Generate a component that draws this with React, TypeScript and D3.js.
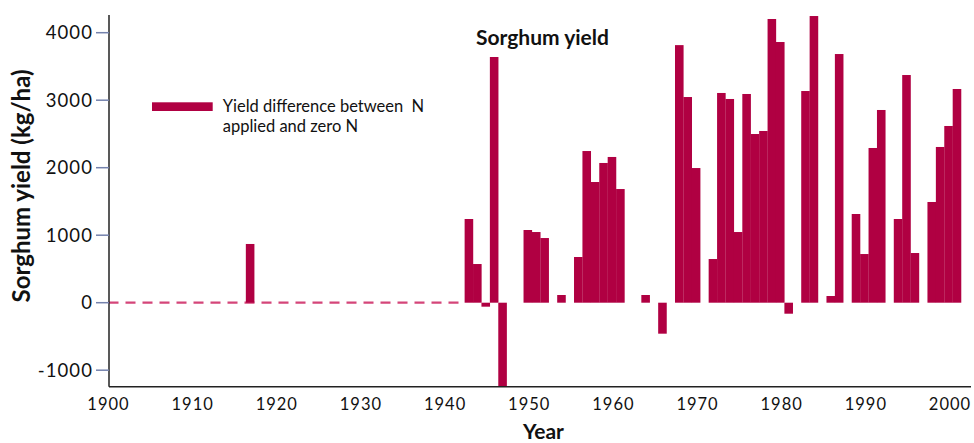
import React from "react";
import * as d3 from "d3";

const years = [1917, 1943, 1944, 1945, 1946, 1947, 1950, 1951, 1952, 1954, 1956, 1957, 1958, 1959, 1960, 1961, 1964, 1966, 1968, 1969, 1970, 1972, 1973, 1974, 1975, 1976, 1977, 1978, 1979, 1980, 1981, 1983, 1984, 1986, 1987, 1989, 1990, 1991, 1992, 1994, 1995, 1996, 1998, 1999, 2000, 2001];
const yieldDiff = [870, 1240, 573, -59, 3640, -1250, 1077, 1047, 958, 114, 677, 2247, 1788, 2070, 2159, 1684, 114, -459, 3816, 3047, 1995, 647, 3107, 3018, 1047, 3092, 2499, 2544, 4203, 3862, -163, 3136, 4247, 99, 3684, 1314, 721, 2292, 2855, 1240, 3373, 736, 1492, 2307, 2618, 3166];
const yTicks = [-1000, 0, 1000, 2000, 3000, 4000];
const xTicks = [1900, 1910, 1920, 1930, 1940, 1950, 1960, 1970, 1980, 1990, 2000];
const dashedFrom = 1900;
const dashedTo = 1942.3;
const title = "Sorghum yield";
const legendLines = ["Yield difference between  N", "applied and zero N"];

const W = 974;
const H = 443;
const FONT = "Lato, 'Open Sans', sans-serif";
const BAR = "#b00042";

export default function App() {
  const x = d3.scaleLinear().domain([1900, 2000]).range([108.5, 950]);
  const y = d3.scaleLinear().domain([0, 4000]).range([302.7, 32.7]);
  const top = 15;
  const bottom = 386.7;
  const left = 109;
  const data = years.map((yr, i) => ({ yr, v: yieldDiff[i] }));
  return (
    <svg width={W} height={H} style={{ position: "absolute", left: 0, top: 0, background: "#fff" }} fontFamily={FONT}>
      <defs>
        <clipPath id="plot">
          <rect x={left} y={top} width={W - left} height={bottom - top} />
        </clipPath>
      </defs>
      <line x1={x(dashedFrom)} x2={x(dashedTo)} y1={y(0)} y2={y(0)} stroke="#cc2462" strokeOpacity={0.85} strokeWidth={2.2} strokeDasharray="10,7" />
      <g clipPath="url(#plot)">
        {data.map((d) => {
          const x0 = x(d.yr - 0.68);
          const x1 = x(d.yr + 0.34);
          const y0 = y(Math.max(0, d.v));
          const y1 = y(Math.min(0, d.v));
          return <rect key={d.yr} x={x0} y={y0} width={x1 - x0} height={y1 - y0} fill={BAR} />;
        })}
      </g>
      <line x1={left} x2={left} y1={top} y2={bottom} stroke="#222" strokeWidth={1.5} />
      <line x1={left} x2={971} y1={bottom} y2={bottom} stroke="#222" strokeWidth={1.5} />
      {yTicks.map((t) => (
        <g key={t}>
          <line x1={96} x2={left} y1={y(t)} y2={y(t)} stroke="#7482ad" strokeWidth={1.5} />
          <text x={93} y={y(t)} dy="0.35em" textAnchor="end" fontSize={18.5} letterSpacing={1.1} fill="#111">{t}</text>
        </g>
      ))}
      {xTicks.map((t) => (
        <text key={t} x={x(t)} y={410} textAnchor="middle" fontSize={16.5} letterSpacing={1} fill="#111">{t}</text>
      ))}
      <text x={543.5} y={438.5} textAnchor="middle" fontSize={21} fontWeight="bold" fill="#111">Year</text>
      <text transform={`translate(30,186) rotate(-90)`} textAnchor="middle" fontSize={24} fontWeight="bold" fill="#111">Sorghum yield (kg/ha)</text>
      <text x={542.5} y={45} textAnchor="middle" fontSize={21} fontWeight="bold" fill="#111">{title}</text>
      <rect x={152} y={102.3} width={60.7} height={8.7} fill={BAR} />
      {legendLines.map((l, i) => (
        <text key={i} x={222.7} y={111.7 + i * 20} fontSize={16.5} fill="#111" style={{ whiteSpace: "pre" }}>{l}</text>
      ))}
    </svg>
  );
}
